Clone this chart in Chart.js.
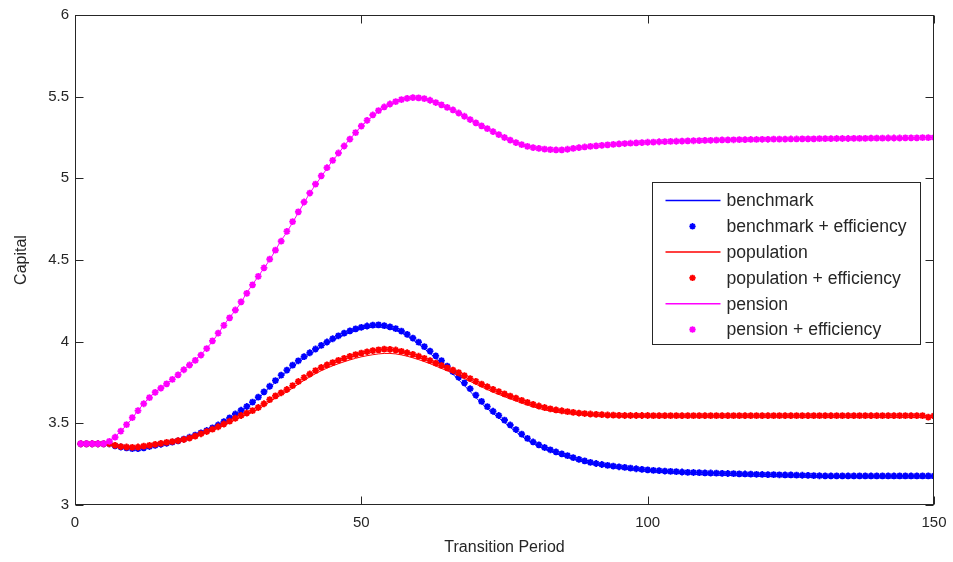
<!DOCTYPE html>
<html>
<head>
<meta charset="utf-8">
<script src="https://cdn.jsdelivr.net/npm/chart.js@4.4.1/dist/chart.umd.min.js"></script>
<style>
  html, body { margin: 0; padding: 0; background: #ffffff; }
  #wrap { width: 953px; height: 562px; }
</style>
</head>
<body>
<div id="wrap"><canvas id="capChart" width="953" height="562"></canvas></div>
<script>
// Periodi di transizione 1..150 (indice dell'asse x)
const periods = Array.from({ length: 150 }, (_, i) => i + 1);

// Valori
const benchLine = [
  3.375, 3.375, 3.375, 3.375, 3.375, 3.375, 3.362, 3.355, 3.35, 3.345,
  3.345, 3.35, 3.357, 3.364, 3.371, 3.377, 3.384, 3.392, 3.401, 3.413,
  3.425, 3.438, 3.452, 3.468, 3.486, 3.506, 3.528, 3.551, 3.574, 3.598,
  3.624, 3.653, 3.685, 3.718, 3.752, 3.785, 3.816, 3.846, 3.873, 3.898,
  3.922, 3.945, 3.967, 3.987, 4.006, 4.024, 4.04, 4.054, 4.066, 4.076,
  4.084, 4.089, 4.09, 4.087, 4.08, 4.069, 4.054, 4.034, 4.011, 3.985,
  3.957, 3.928, 3.898, 3.867, 3.834, 3.8, 3.766, 3.731, 3.695, 3.658,
  3.622, 3.59, 3.561, 3.533, 3.505, 3.476, 3.448, 3.421, 3.396, 3.375,
  3.357, 3.341, 3.327, 3.314, 3.302, 3.291, 3.28, 3.27, 3.261, 3.253,
  3.246, 3.24, 3.234, 3.229, 3.224, 3.22, 3.216, 3.212, 3.209, 3.206,
  3.203, 3.2, 3.198, 3.196, 3.194, 3.192, 3.19, 3.188, 3.186, 3.185,
  3.184, 3.183, 3.182, 3.181, 3.18, 3.179, 3.178, 3.177, 3.176, 3.175,
  3.174, 3.174, 3.173, 3.172, 3.172, 3.171, 3.171, 3.17, 3.17, 3.169,
  3.169, 3.168, 3.168, 3.168, 3.167, 3.167, 3.167, 3.166, 3.166, 3.166,
  3.166, 3.165, 3.165, 3.165, 3.165, 3.165, 3.165, 3.165, 3.165, 3.165
];

const benchEff = [
  3.375, 3.375, 3.375, 3.375, 3.375, 3.375, 3.362, 3.355, 3.35, 3.345,
  3.345, 3.35, 3.358, 3.365, 3.372, 3.378, 3.385, 3.393, 3.403, 3.415,
  3.428, 3.442, 3.456, 3.472, 3.49, 3.51, 3.533, 3.557, 3.58, 3.603,
  3.63, 3.66, 3.693, 3.727, 3.762, 3.795, 3.826, 3.856, 3.883, 3.908,
  3.932, 3.955, 3.977, 3.998, 4.018, 4.036, 4.052, 4.066, 4.078, 4.088,
  4.096, 4.101, 4.103, 4.098, 4.091, 4.08, 4.065, 4.045, 4.022, 3.997,
  3.97, 3.942, 3.913, 3.884, 3.85, 3.816, 3.782, 3.748, 3.712, 3.673,
  3.634, 3.602, 3.574, 3.548, 3.52, 3.49, 3.462, 3.434, 3.408, 3.386,
  3.368, 3.352, 3.338, 3.325, 3.313, 3.302, 3.29, 3.279, 3.27, 3.261,
  3.254, 3.248, 3.243, 3.238, 3.234, 3.23, 3.226, 3.222, 3.218, 3.215,
  3.212, 3.21, 3.208, 3.206, 3.204, 3.202, 3.2, 3.199, 3.198, 3.197,
  3.196, 3.195, 3.194, 3.193, 3.192, 3.191, 3.19, 3.189, 3.188, 3.187,
  3.186, 3.186, 3.185, 3.184, 3.184, 3.183, 3.182, 3.181, 3.18, 3.179,
  3.178, 3.178, 3.178, 3.178, 3.178, 3.178, 3.178, 3.178, 3.178, 3.178,
  3.178, 3.178, 3.178, 3.178, 3.178, 3.178, 3.178, 3.178, 3.178, 3.178
];

const popLine = [
  3.375, 3.375, 3.375, 3.375, 3.375, 3.375, 3.365, 3.358, 3.355, 3.353,
  3.354, 3.358, 3.363, 3.368, 3.374, 3.379, 3.384, 3.39, 3.397, 3.405,
  3.416, 3.429, 3.442, 3.456, 3.471, 3.487, 3.504, 3.521, 3.538, 3.553,
  3.568, 3.586, 3.608, 3.632, 3.654, 3.673, 3.693, 3.716, 3.74, 3.763,
  3.784, 3.804, 3.822, 3.838, 3.852, 3.865, 3.877, 3.888, 3.898, 3.907,
  3.914, 3.92, 3.925, 3.928, 3.928, 3.925, 3.919, 3.911, 3.901, 3.89,
  3.878, 3.865, 3.851, 3.836, 3.822, 3.807, 3.791, 3.774, 3.757, 3.74,
  3.723, 3.707, 3.691, 3.677, 3.663, 3.65, 3.637, 3.624, 3.612, 3.601,
  3.591, 3.582, 3.575, 3.569, 3.564, 3.56, 3.556, 3.553, 3.55, 3.548,
  3.546, 3.545, 3.544, 3.543, 3.542, 3.541, 3.541, 3.541, 3.541, 3.541,
  3.54, 3.54, 3.54, 3.54, 3.54, 3.54, 3.54, 3.54, 3.54, 3.54,
  3.539, 3.539, 3.539, 3.539, 3.539, 3.539, 3.539, 3.539, 3.539, 3.539,
  3.539, 3.539, 3.539, 3.539, 3.539, 3.538, 3.538, 3.538, 3.538, 3.538,
  3.538, 3.538, 3.538, 3.538, 3.538, 3.538, 3.538, 3.538, 3.538, 3.538,
  3.537, 3.537, 3.537, 3.537, 3.537, 3.537, 3.537, 3.537, 3.537, 3.537
];

const popEff = [
  3.375, 3.375, 3.375, 3.375, 3.375, 3.375, 3.365, 3.358, 3.355, 3.353,
  3.355, 3.36, 3.365, 3.371, 3.377, 3.383, 3.388, 3.394, 3.401, 3.41,
  3.422, 3.436, 3.45, 3.464, 3.479, 3.496, 3.513, 3.531, 3.548, 3.563,
  3.578, 3.597, 3.62, 3.645, 3.668, 3.687, 3.707, 3.731, 3.756, 3.78,
  3.802, 3.823, 3.842, 3.858, 3.872, 3.886, 3.898, 3.91, 3.921, 3.93,
  3.938, 3.945, 3.95, 3.954, 3.953, 3.949, 3.941, 3.932, 3.922, 3.911,
  3.898, 3.884, 3.869, 3.854, 3.84, 3.826, 3.81, 3.792, 3.774, 3.757,
  3.74, 3.724, 3.708, 3.694, 3.68, 3.667, 3.654, 3.641, 3.628, 3.616,
  3.606, 3.597, 3.589, 3.582, 3.577, 3.572, 3.567, 3.563, 3.56, 3.557,
  3.555, 3.553, 3.551, 3.55, 3.549, 3.548, 3.548, 3.548, 3.548, 3.548,
  3.547, 3.547, 3.547, 3.547, 3.547, 3.547, 3.547, 3.547, 3.547, 3.547,
  3.547, 3.547, 3.547, 3.547, 3.547, 3.547, 3.547, 3.547, 3.547, 3.547,
  3.547, 3.547, 3.547, 3.547, 3.547, 3.547, 3.547, 3.547, 3.547, 3.547,
  3.547, 3.547, 3.547, 3.547, 3.547, 3.547, 3.547, 3.547, 3.547, 3.547,
  3.547, 3.547, 3.547, 3.547, 3.547, 3.547, 3.547, 3.547, 3.538, 3.546
];

const pensionLine = [
  3.375, 3.375, 3.375, 3.375, 3.375, 3.39, 3.42, 3.45, 3.49, 3.53,
  3.58, 3.62, 3.66, 3.69, 3.72, 3.74, 3.77, 3.8, 3.83, 3.86,
  3.89, 3.92, 3.96, 4.0, 4.05, 4.1, 4.15, 4.19, 4.24, 4.3,
  4.35, 4.4, 4.45, 4.5, 4.56, 4.62, 4.67, 4.73, 4.79, 4.85,
  4.91, 4.96, 5.01, 5.06, 5.11, 5.15, 5.2, 5.24, 5.28, 5.32,
  5.35, 5.38, 5.41, 5.43, 5.45, 5.47, 5.48, 5.49, 5.49, 5.49,
  5.49, 5.48, 5.46, 5.45, 5.43, 5.42, 5.4, 5.38, 5.36, 5.34,
  5.32, 5.3, 5.28, 5.27, 5.25, 5.23, 5.22, 5.21, 5.2, 5.19,
  5.18, 5.18, 5.18, 5.17, 5.17, 5.18, 5.18, 5.19, 5.19, 5.2,
  5.2, 5.2, 5.2, 5.21, 5.21, 5.21, 5.21, 5.22, 5.22, 5.22,
  5.22, 5.22, 5.22, 5.23, 5.23, 5.23, 5.23, 5.23, 5.23, 5.23,
  5.23, 5.23, 5.23, 5.24, 5.24, 5.24, 5.24, 5.24, 5.24, 5.24,
  5.24, 5.24, 5.24, 5.24, 5.24, 5.24, 5.24, 5.24, 5.24, 5.24,
  5.24, 5.24, 5.24, 5.24, 5.24, 5.24, 5.24, 5.24, 5.24, 5.24,
  5.24, 5.24, 5.24, 5.24, 5.24, 5.25, 5.25, 5.25, 5.25, 5.25
];

const pensionEff = [
  3.375, 3.375, 3.375, 3.375, 3.375, 3.39, 3.415, 3.452, 3.492, 3.535,
  3.578, 3.62, 3.657, 3.69, 3.716, 3.742, 3.769, 3.797, 3.828, 3.857,
  3.885, 3.918, 3.958, 4.005, 4.052, 4.1, 4.146, 4.194, 4.244, 4.296,
  4.348, 4.4, 4.452, 4.505, 4.56, 4.615, 4.675, 4.735, 4.795, 4.855,
  4.91, 4.965, 5.015, 5.065, 5.11, 5.155, 5.198, 5.24, 5.28, 5.32,
  5.355, 5.388, 5.415, 5.437, 5.455, 5.47, 5.482, 5.49, 5.494, 5.493,
  5.488, 5.478, 5.464, 5.45, 5.434, 5.419, 5.4, 5.38, 5.36, 5.34,
  5.321, 5.304, 5.286, 5.268, 5.25, 5.234, 5.219, 5.206, 5.196, 5.188,
  5.183, 5.179, 5.176, 5.174, 5.174, 5.178, 5.183, 5.188, 5.192, 5.196,
  5.199, 5.202, 5.205, 5.208, 5.211, 5.213, 5.215, 5.217, 5.219, 5.221,
  5.222, 5.224, 5.225, 5.226, 5.227, 5.228, 5.229, 5.23, 5.231, 5.232,
  5.233, 5.234, 5.235, 5.235, 5.236, 5.237, 5.237, 5.238, 5.238, 5.239,
  5.239, 5.24, 5.24, 5.24, 5.241, 5.241, 5.242, 5.242, 5.242, 5.243,
  5.243, 5.243, 5.244, 5.244, 5.244, 5.245, 5.245, 5.245, 5.246, 5.246,
  5.246, 5.247, 5.247, 5.247, 5.248, 5.248, 5.248, 5.249, 5.249, 5.25
];

const xTicks = [0, 50, 100, 150];
const yTicks = [3, 3.5, 4, 4.5, 5, 5.5, 6];

const AXIS_COLOR = '#262626';
const FONT = '"Liberation Sans", Arial, sans-serif';

function toPoints(values) {
  return values.map((v, i) => ({ x: periods[i], y: v }));
}

function lineSet(label, values, color, order) {
  return {
    label: label,
    data: toPoints(values),
    borderColor: color,
    backgroundColor: color,
    borderWidth: 1,
    pointRadius: 0,
    tension: 0,
    order: order
  };
}

function markerSet(label, values, color, order) {
  return {
    label: label,
    data: toPoints(values),
    borderColor: color,
    backgroundColor: color,
    showLine: false,
    pointStyle: 'star',
    pointRadius: 3.4,
    pointBorderWidth: 1.9,
    order: order
  };
}

// Riquadro stile MATLAB: bordo completo e tacche rivolte verso l'interno
const framePlugin = {
  id: 'frame',
  afterDraw(chart) {
    const { ctx, chartArea, scales } = chart;
    const l = chartArea.left + 0.5, r = chartArea.right - 0.5;
    const t = chartArea.top + 0.5, b = chartArea.bottom - 0.5;
    const tl = 8;
    ctx.save();
    ctx.strokeStyle = AXIS_COLOR;
    ctx.lineWidth = 1;
    ctx.strokeRect(l, t, r - l, b - t);
    ctx.beginPath();
    xTicks.forEach(v => {
      const px = Math.round(scales.x.getPixelForValue(v)) + 0.5;
      ctx.moveTo(px, b); ctx.lineTo(px, b - tl);
      ctx.moveTo(px, t); ctx.lineTo(px, t + tl);
    });
    yTicks.forEach(v => {
      const py = Math.round(scales.y.getPixelForValue(v)) + 0.5;
      ctx.moveTo(l, py); ctx.lineTo(l + tl, py);
      ctx.moveTo(r, py); ctx.lineTo(r - tl, py);
    });
    ctx.stroke();
    ctx.restore();
  }
};

// Legenda dentro l'area del grafico, in alto a destra
const legendPlugin = {
  id: 'boxLegend',
  afterDraw(chart) {
    const { ctx, chartArea } = chart;
    const w = 268, h = 162;
    const x0 = chartArea.right - 282 + 0.5;
    const y0 = chartArea.top + 167 + 0.5;
    ctx.save();
    ctx.fillStyle = '#ffffff';
    ctx.fillRect(x0, y0, w, h);
    ctx.strokeStyle = AXIS_COLOR;
    ctx.lineWidth = 1;
    ctx.strokeRect(x0, y0, w, h);
    ctx.font = '17.6px ' + FONT;
    ctx.textBaseline = 'middle';
    chart.data.datasets.forEach((ds, row) => {
      const cy = y0 + 18 + row * 25.8;
      if (ds.showLine === false) {
        // marcatore a stella
        const cx = x0 + 40;
        const rr = 3.2;
        ctx.strokeStyle = ds.borderColor;
        ctx.lineWidth = 1.8;
        ctx.beginPath();
        ctx.moveTo(cx - rr, cy); ctx.lineTo(cx + rr, cy);
        ctx.moveTo(cx, cy - rr); ctx.lineTo(cx, cy + rr);
        const d = rr * 0.707;
        ctx.moveTo(cx - d, cy - d); ctx.lineTo(cx + d, cy + d);
        ctx.moveTo(cx - d, cy + d); ctx.lineTo(cx + d, cy - d);
        ctx.stroke();
      } else {
        ctx.strokeStyle = ds.borderColor;
        ctx.lineWidth = 1.5;
        ctx.beginPath();
        ctx.moveTo(x0 + 13, cy);
        ctx.lineTo(x0 + 68, cy);
        ctx.stroke();
      }
      ctx.fillStyle = AXIS_COLOR;
      ctx.fillText(ds.label, x0 + 74, cy + 1);
    });
    ctx.restore();
  }
};

const ctx = document.getElementById('capChart').getContext('2d');

new Chart(ctx, {
  type: 'line',
  data: {
    datasets: [
      lineSet('benchmark', benchLine, '#0000ff', 6),
      markerSet('benchmark + efficiency', benchEff, '#0000ff', 5),
      lineSet('population', popLine, '#ff0000', 4),
      markerSet('population + efficiency', popEff, '#ff0000', 3),
      lineSet('pension', pensionLine, '#ff00ff', 2),
      markerSet('pension + efficiency', pensionEff, '#ff00ff', 1)
    ]
  },
  options: {
    responsive: false,
    animation: false,
    layout: { padding: { left: 0, right: 19, top: 15, bottom: 0 } },
    scales: {
      x: {
        type: 'linear',
        min: 0,
        max: 150,
        afterBuildTicks: (scale) => { scale.ticks = xTicks.map(v => ({ value: v })); },
        afterFit: (scale) => {
          scale.height = 57;
          scale.paddingLeft = 0;
          scale.paddingRight = 0;
        },
        grid: { display: false, drawTicks: false },
        border: { display: false },
        ticks: {
          color: AXIS_COLOR,
          font: { family: FONT, size: 15 },
          padding: 9,
          maxRotation: 0,
          callback: (v) => String(v)
        },
        title: {
          display: true,
          text: 'Transition Period',
          color: AXIS_COLOR,
          font: { family: FONT, size: 16 },
          padding: { top: 0, bottom: 5 }
        }
      },
      y: {
        type: 'linear',
        min: 3,
        max: 6,
        afterBuildTicks: (scale) => { scale.ticks = yTicks.map(v => ({ value: v })); },
        afterFit: (scale) => {
          scale.width = 75;
          scale.paddingTop = 0;
          scale.paddingBottom = 0;
        },
        grid: { display: false, drawTicks: false },
        border: { display: false },
        ticks: {
          color: AXIS_COLOR,
          font: { family: FONT, size: 15 },
          padding: 6,
          callback: (v) => String(v)
        },
        title: {
          display: true,
          text: 'Capital',
          color: AXIS_COLOR,
          font: { family: FONT, size: 16 },
          padding: { top: 12, bottom: 0 }
        }
      }
    },
    plugins: {
      legend: { display: false },
      tooltip: { enabled: false }
    }
  },
  plugins: [framePlugin, legendPlugin]
});
</script>
</body>
</html>
